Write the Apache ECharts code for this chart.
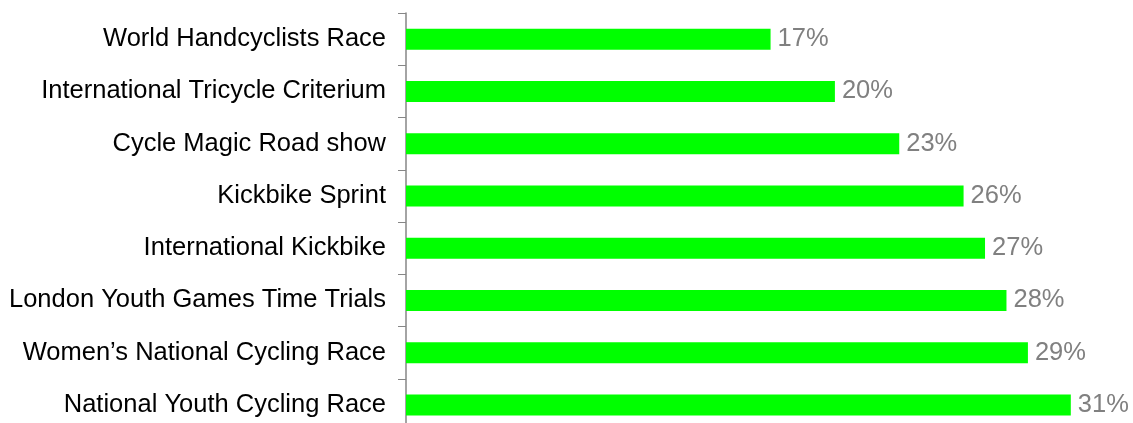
<!DOCTYPE html>
<html>
<head>
<meta charset="utf-8">
<script src="https://cdn.jsdelivr.net/npm/echarts@6/dist/echarts.min.js"></script>
<style>html,body{margin:0;padding:0;background:#fff;overflow:hidden;}#c{width:1133px;height:440px;}</style>
</head>
<body>
<div id="c"></div>
<script>
var categories = ["World Handcyclists Race","International Tricycle Criterium","Cycle Magic Road show","Kickbike Sprint","International Kickbike","London Youth Games Time Trials","Women\u2019s National Cycling Race","National Youth Cycling Race"];
var values = [17, 20, 23, 26, 27, 28, 29, 31];

var chart = echarts.init(document.getElementById('c'), null, {renderer:'canvas'});
chart.setOption({
  animation: false,
  grid: {left: 406, right: 0, top: 13, bottom: 9, containLabel: false},
  xAxis: {type: 'value', min: 0, max: 33.9, show: false},
  yAxis: {
    type: 'category', data: categories, inverse: true,
    axisLine: {show: true, lineStyle: {color: '#868686', width: 1.5}},
    axisTick: {show: true, length: 8, lineStyle: {color: '#868686', width: 1}},
    axisLabel: {color: '#000', fontFamily: 'Liberation Sans, Arial, sans-serif', fontSize: 25.5, margin: 20}
  },
  series: [{
    type: 'bar', data: values, barWidth: 21,
    itemStyle: {color: '#00FF00'},
    label: {show: true, position: 'right', distance: 7, formatter: '{c}%', color: '#808080', fontFamily: 'Liberation Sans, Arial, sans-serif', fontSize: 25.5}
  }]
});
</script>
</body>
</html>
